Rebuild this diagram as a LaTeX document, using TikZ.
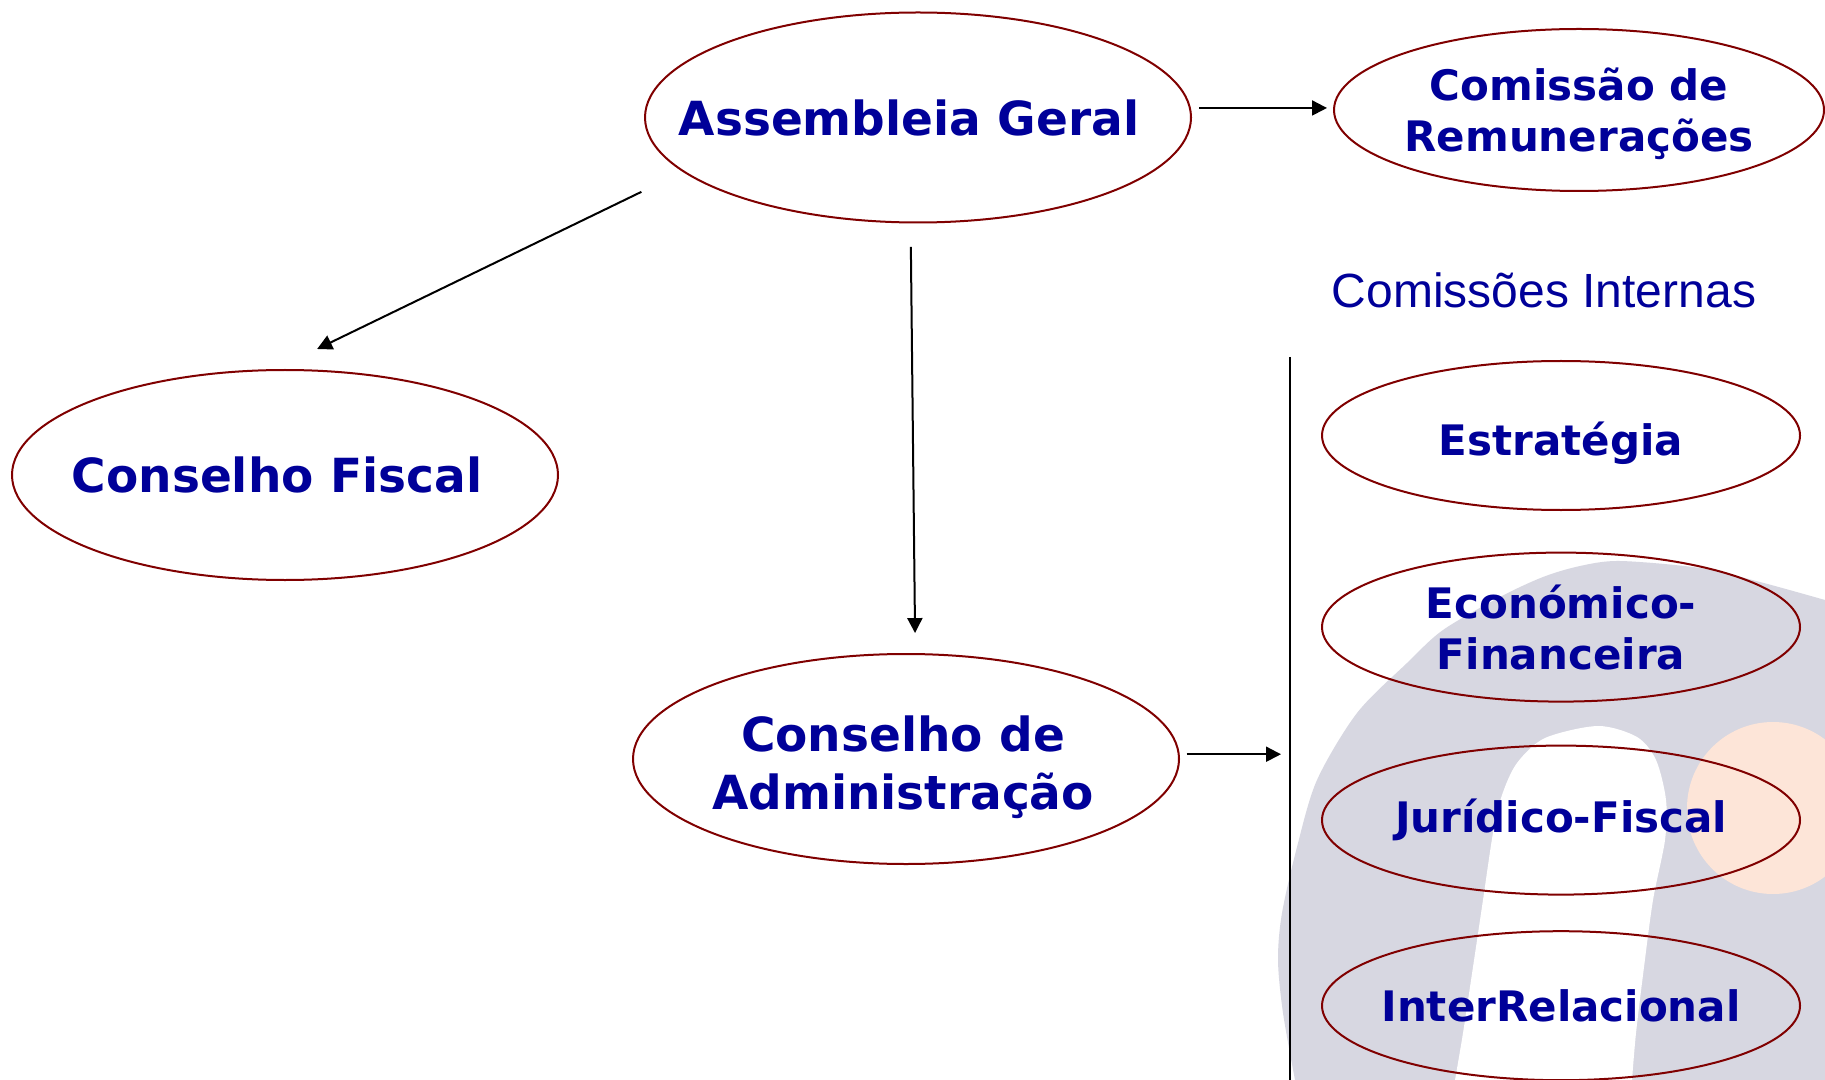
\documentclass[tikz,border=0pt]{standalone}
\usepackage{fontspec}
\usepackage{tikz}
\usetikzlibrary{
        arrows.meta,
        positioning,
        shapes.geometric
    }
\setmainfont{DejaVu Sans}
\newfontfamily\thinfont{Liberation Sans}
\definecolor{ovalred}{HTML}{800000}
\definecolor{textblue}{HTML}{000099}
\definecolor{logogrey}{HTML}{D7D7E1}
\definecolor{logopeach}{HTML}{FDE5D8}
\tikzset{
    oval/.style={ellipse,draw=ovalred,inner sep=0pt,minimum width=273pt,minimum height=105pt},
    comm/.style={oval,minimum width=239pt,minimum height=74.5pt},
    bigtext/.style={text=textblue,align=center,font=\fontsize{23.5}{29}\selectfont\bfseries},
    smalltext/.style={text=textblue,align=center,font=\fontsize{21}{25.5}\selectfont\bfseries}
}

\begin{document}
\begin{tikzpicture}[x=0.5pt,y=-0.5pt,line width=1pt,>={Triangle[length=7.5pt,width=7.5pt]}]
                    \useasboundingbox (0,0) rectangle (1825,1080);
                    \fill[white] (0,0) rectangle (1825,1080);
                    % logo behind the commissions
                    \fill[logogrey] plot[smooth] coordinates {(1295,1080) (1283,1013) (1278,960) (1282,913) (1297,847)
                        (1317,780) (1357,713) (1407,663) (1443,630) (1500,597) (1543,577) (1580,566) (1620,561)
                        (1700,568) (1760,582) (1825,600)} -- (1825,1080) -- cycle;
                    \fill[white] plot[smooth] coordinates {(1455,1080) (1463,1033) (1473,967) (1483,900) (1493,833)
                        (1502,795) (1517,763) (1545,738) (1598,726) (1637,737) (1656,760) (1666,800) (1665,840)
                        (1653,900) (1644,967) (1636,1033) (1632,1080)} -- cycle;
                    \fill[logopeach] (1773,808) circle (43pt);
                    % organs
                    \node[oval,label={[bigtext,xshift=-4.5pt]center:Assembleia Geral}] (ag) at (918,117.5) {};
                    \node[oval,label={[bigtext,xshift=-4pt]center:Conselho Fiscal}] (cf) at (285,475) {};
                    \node[oval,label={[bigtext,xshift=-1.5pt,yshift=-4pt]center:{Conselho de\\Administração}}] (ca) at (906,759) {};
                    \node[comm,minimum width=245pt,minimum height=81pt,
                        label={[smalltext,yshift=-1.75pt]center:{Comissão de\\Remunerações}}] (cr) at (1579,110) {};
                    \node[text=textblue,anchor=base,font=\thinfont\fontsize{24}{28}\selectfont] (ci) at (1544,308) {Comissões Internas};
                    % internal commissions
                    \node[comm,label={[smalltext,yshift=-4pt]center:Estratégia}] (est) at (1561,435.5) {};
                    \node[comm,below=20.3pt of est,label={[smalltext]center:{Económico-\\Financeira}}] (eco) {};
                    \node[comm,below=21pt of eco,label={[smalltext]center:Jurídico-Fiscal}] (jur) {};
                    \node[comm,below=17.3pt of jur,label={[smalltext]center:InterRelacional}] (rel) {};
                    \coordinate (bartop) at (1290,357);
                    \coordinate (barbot) at (1290,1080);
                    \draw (bartop) -- (barbot);
                    \draw[->,shorten <=4.25pt,shorten >=3pt] (ag.2) -- (ag.2 -| cr.west);
                    \draw[->,shorten <=23pt,shorten >=23pt] (ag.193) -- (cf.95);
                    \draw[->,shorten <=11.75pt,shorten >=10pt] (ag.266) -- (ca.85);
                    \draw[->,shorten <=3.5pt,shorten >=4.5pt] (ca.1) -- (ca.1 -| bartop);
                \end{tikzpicture}
\end{document}
